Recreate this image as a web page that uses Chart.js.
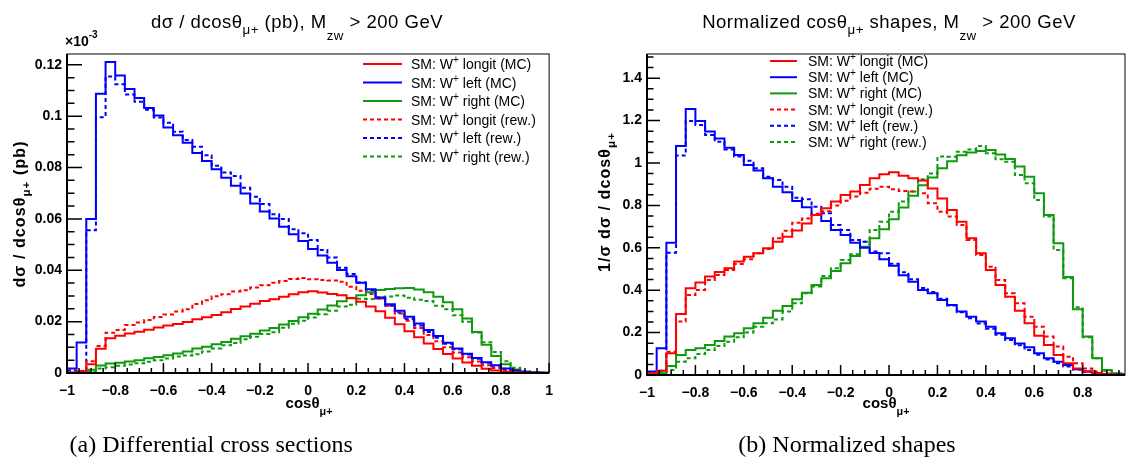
<!DOCTYPE html>
<html>
<head>
<meta charset="utf-8">
<script src="https://cdn.jsdelivr.net/npm/chart.js@4.4.1/dist/chart.umd.min.js"></script>
<style>
  body { margin: 0; background: #fff; width: 1126px; height: 459px; overflow: hidden; position: relative; }
  .panel { position: absolute; top: 0; width: 563px; height: 459px; }
</style>
</head>
<body>
<div class="panel" style="left:0"><canvas id="diff"></canvas></div>
<div class="panel" style="left:563px"><canvas id="norm"></canvas></div>
<script>
// bin edges of cos(theta), 50 bins from -1 to 1
const binEdges = Array.from({ length: 51 }, (_, i) => +(-1 + 0.04 * i).toFixed(2));

const seriesNames = ["longit (MC)", "left (MC)", "right (MC)", "longit (rew.)", "left (rew.)", "right (rew.)"];

const xTicksDiff = [-1, -0.8, -0.6, -0.4, -0.2, 0, 0.2, 0.4, 0.6, 0.8, 1];
const yTicksDiff = [0, 0.02, 0.04, 0.06, 0.08, 0.1, 0.12];
const yTicksNorm = [0, 0.2, 0.4, 0.6, 0.8, 1, 1.2, 1.4];

// (a) dsigma / dcos, in units of 1e-3 pb
const diffLongMC = [0.0002, 0.0006, 0.0034, 0.0094, 0.0135, 0.0145, 0.0154, 0.0161, 0.0168, 0.0177, 0.0185, 0.0191, 0.0199, 0.0209, 0.0217, 0.0226, 0.0237, 0.0249, 0.0259, 0.0270, 0.0280, 0.0287, 0.0297, 0.0307, 0.0314, 0.0318, 0.0313, 0.0308, 0.0303, 0.0292, 0.0277, 0.0259, 0.0240, 0.0215, 0.0190, 0.0163, 0.0139, 0.0115, 0.0093, 0.0074, 0.0056, 0.0041, 0.0028, 0.0017, 0.0010, 0.0005, 0.0003, 0.0001, 0.0001, 0.0000];
const diffLeftMC = [0.0018, 0.0119, 0.0600, 0.1087, 0.1211, 0.1158, 0.1106, 0.1071, 0.1032, 0.1003, 0.0956, 0.0926, 0.0896, 0.0857, 0.0825, 0.0793, 0.0760, 0.0729, 0.0699, 0.0660, 0.0629, 0.0602, 0.0569, 0.0540, 0.0514, 0.0483, 0.0457, 0.0429, 0.0401, 0.0377, 0.0351, 0.0326, 0.0294, 0.0268, 0.0242, 0.0219, 0.0193, 0.0167, 0.0144, 0.0118, 0.0095, 0.0075, 0.0058, 0.0042, 0.0030, 0.0018, 0.0010, 0.0005, 0.0002, 0.0001];
const diffRightMC = [0.0001, 0.0003, 0.0013, 0.0029, 0.0037, 0.0040, 0.0045, 0.0050, 0.0057, 0.0062, 0.0069, 0.0076, 0.0084, 0.0095, 0.0102, 0.0112, 0.0121, 0.0133, 0.0143, 0.0153, 0.0165, 0.0175, 0.0189, 0.0202, 0.0217, 0.0231, 0.0247, 0.0263, 0.0279, 0.0291, 0.0303, 0.0314, 0.0323, 0.0327, 0.0330, 0.0331, 0.0325, 0.0314, 0.0297, 0.0275, 0.0248, 0.0212, 0.0160, 0.0110, 0.0066, 0.0034, 0.0014, 0.0005, 0.0002, 0.0001];
const diffLongRw = [0.0002, 0.0006, 0.0046, 0.0105, 0.0157, 0.0167, 0.0187, 0.0197, 0.0206, 0.0218, 0.0228, 0.0239, 0.0248, 0.0269, 0.0283, 0.0299, 0.0307, 0.0317, 0.0322, 0.0333, 0.0342, 0.0351, 0.0358, 0.0366, 0.0370, 0.0365, 0.0362, 0.0360, 0.0355, 0.0336, 0.0320, 0.0308, 0.0290, 0.0262, 0.0232, 0.0203, 0.0175, 0.0148, 0.0124, 0.0100, 0.0080, 0.0061, 0.0045, 0.0030, 0.0019, 0.0010, 0.0005, 0.0002, 0.0001, 0.0000];
const diffLeftRw = [0.0010, 0.0008, 0.0556, 0.0996, 0.1154, 0.1124, 0.1084, 0.1056, 0.1025, 0.0995, 0.0974, 0.0939, 0.0907, 0.0881, 0.0848, 0.0807, 0.0781, 0.0767, 0.0721, 0.0686, 0.0658, 0.0618, 0.0600, 0.0560, 0.0544, 0.0518, 0.0479, 0.0450, 0.0410, 0.0385, 0.0352, 0.0322, 0.0290, 0.0262, 0.0236, 0.0210, 0.0185, 0.0160, 0.0137, 0.0114, 0.0092, 0.0072, 0.0055, 0.0040, 0.0028, 0.0017, 0.0009, 0.0004, 0.0002, 0.0001];
const diffRightRw = [0.0001, 0.0001, 0.0007, 0.0018, 0.0022, 0.0028, 0.0033, 0.0038, 0.0044, 0.0050, 0.0056, 0.0064, 0.0068, 0.0073, 0.0084, 0.0095, 0.0108, 0.0117, 0.0131, 0.0141, 0.0152, 0.0159, 0.0176, 0.0192, 0.0203, 0.0216, 0.0229, 0.0242, 0.0259, 0.0266, 0.0289, 0.0288, 0.0295, 0.0298, 0.0302, 0.0293, 0.0285, 0.0280, 0.0262, 0.0248, 0.0225, 0.0200, 0.0158, 0.0120, 0.0082, 0.0046, 0.0020, 0.0006, 0.0002, 0.0001];

// (b) normalized shapes
const normLongMC = [0.008, 0.020, 0.102, 0.288, 0.409, 0.436, 0.464, 0.486, 0.503, 0.535, 0.558, 0.574, 0.598, 0.629, 0.652, 0.681, 0.715, 0.755, 0.786, 0.818, 0.849, 0.865, 0.896, 0.928, 0.947, 0.956, 0.940, 0.928, 0.917, 0.880, 0.833, 0.778, 0.723, 0.645, 0.574, 0.495, 0.425, 0.369, 0.303, 0.244, 0.185, 0.142, 0.094, 0.055, 0.031, 0.016, 0.008, 0.004, 0.002, 0.001];
const normLeftMC = [0.016, 0.126, 0.624, 1.080, 1.255, 1.198, 1.149, 1.116, 1.072, 1.038, 0.990, 0.964, 0.928, 0.888, 0.862, 0.821, 0.791, 0.755, 0.726, 0.684, 0.660, 0.624, 0.600, 0.575, 0.546, 0.515, 0.470, 0.440, 0.401, 0.385, 0.354, 0.330, 0.299, 0.275, 0.252, 0.228, 0.197, 0.173, 0.149, 0.131, 0.102, 0.079, 0.063, 0.047, 0.027, 0.016, 0.008, 0.004, 0.002, 0.001];
const normRightMC = [0.004, 0.008, 0.042, 0.094, 0.118, 0.126, 0.142, 0.160, 0.181, 0.197, 0.220, 0.244, 0.270, 0.303, 0.325, 0.357, 0.388, 0.425, 0.456, 0.491, 0.527, 0.561, 0.605, 0.645, 0.687, 0.735, 0.790, 0.845, 0.895, 0.932, 0.975, 1.008, 1.036, 1.049, 1.057, 1.061, 1.040, 1.019, 0.983, 0.935, 0.857, 0.755, 0.621, 0.462, 0.310, 0.181, 0.079, 0.024, 0.008, 0.003];
const normLongRw = [0.004, 0.015, 0.110, 0.252, 0.377, 0.401, 0.448, 0.472, 0.495, 0.524, 0.546, 0.574, 0.594, 0.645, 0.680, 0.718, 0.738, 0.760, 0.772, 0.800, 0.822, 0.842, 0.860, 0.878, 0.888, 0.876, 0.868, 0.865, 0.857, 0.810, 0.770, 0.747, 0.708, 0.637, 0.566, 0.511, 0.448, 0.385, 0.338, 0.275, 0.228, 0.181, 0.134, 0.086, 0.055, 0.031, 0.016, 0.007, 0.003, 0.001];
const normLeftRw = [0.010, 0.020, 0.577, 1.035, 1.198, 1.179, 1.132, 1.100, 1.064, 1.030, 1.011, 0.975, 0.935, 0.920, 0.888, 0.836, 0.829, 0.794, 0.763, 0.708, 0.684, 0.637, 0.629, 0.582, 0.574, 0.525, 0.485, 0.452, 0.410, 0.392, 0.360, 0.328, 0.296, 0.268, 0.243, 0.218, 0.190, 0.165, 0.140, 0.118, 0.095, 0.073, 0.056, 0.040, 0.026, 0.015, 0.008, 0.004, 0.002, 0.001];
const normRightRw = [0.002, 0.004, 0.024, 0.063, 0.079, 0.099, 0.118, 0.137, 0.157, 0.178, 0.200, 0.228, 0.244, 0.262, 0.299, 0.338, 0.385, 0.417, 0.467, 0.503, 0.542, 0.569, 0.629, 0.684, 0.723, 0.770, 0.818, 0.865, 0.923, 0.950, 1.030, 1.029, 1.053, 1.064, 1.080, 1.046, 1.017, 1.006, 0.943, 0.904, 0.825, 0.747, 0.590, 0.456, 0.319, 0.178, 0.079, 0.020, 0.006, 0.002];

const COLORS = ["#ff0000", "#0000ff", "#0f990f"];
const SANS = '"Liberation Sans", Arial, sans-serif';
const SERIF = '"Liberation Serif", "Times New Roman", serif';

// text with sub/superscripts: parts = [[text], [text, dy], ...]
function rich(ctx, parts, x, y, o) {
    const weight = o.weight || "normal";
    const family = o.family || SANS;
    const spacing = o.spacing || 0;
    let w = 0;
    const items = parts.map((p) => {
        const s = p.length > 1 ? o.size * 0.72 : o.size;
        ctx.font = `${weight} ${s}px ${family}`;
        const it = { t: p[0], s, off: w, dy: p[1] || 0 };
        w += ctx.measureText(p[0]).width + spacing * p[0].length;
        return it;
    });
    const x0 = o.align === "center" ? -w / 2 : o.align === "right" ? -w : 0;
    ctx.save();
    ctx.translate(x, y);
    if (o.rotate) ctx.rotate(o.rotate);
    ctx.fillStyle = "#000";
    ctx.textAlign = "left";
    ctx.textBaseline = "alphabetic";
    items.forEach((it) => {
        ctx.font = `${weight} ${it.s}px ${family}`;
        // draw glyph by glyph so the spacing works everywhere
        let cx = x0 + it.off;
        for (const ch of it.t) {
            ctx.fillText(ch, cx, it.dy);
            cx += ctx.measureText(ch).width + spacing;
        }
    });
    ctx.restore();
}

const steps = (vals) => binEdges.map((x, i) => ({ x, y: vals[Math.min(i, vals.length - 1)] }));

const makeSets = (list) =>
    list.map((vals, i) => ({
        label: seriesNames[i],
        data: steps(vals),
        borderColor: COLORS[i % 3],
        borderDash: i < 3 ? [] : [4, 3],
        borderWidth: 2,
        stepped: true,
        pointRadius: 0,
        fill: false,
    }));

// ROOT style frame with inward ticks
const makeAxes = (cfg) => ({
    id: "rootAxes",
    afterDatasetsDraw(chart) {
        const { ctx, chartArea: a } = chart;
        const xs = chart.scales.x, ys = chart.scales.y;
        const marks = (scale, major, fn) => {
            const step = major / 4;
            const start = Math.ceil(scale.min / step - 1e-6);
            const end = Math.floor(scale.max / step + 1e-6);
            for (let i = start; i <= end; i++) fn(scale.getPixelForValue(i * step), i % 4 === 0);
        };
        ctx.save();
        ctx.strokeStyle = "#000";
        ctx.lineWidth = 1;
        ctx.strokeRect(a.left, a.top, a.right - a.left, a.bottom - a.top);
        ctx.lineWidth = 1.5;
        ctx.beginPath();
        marks(xs, cfg.xMajor, (p, m) => {
            ctx.moveTo(p, a.bottom);
            ctx.lineTo(p, a.bottom - (m ? cfg.xLen : cfg.xLen / 2));
        });
        marks(ys, cfg.yMajor, (p, m) => {
            ctx.moveTo(a.left, p);
            ctx.lineTo(a.left + (m ? cfg.yLen : cfg.yLen / 2), p);
        });
        ctx.stroke();
        ctx.lineWidth = 2;
        ctx.beginPath();
        ctx.moveTo(a.left, a.top);
        ctx.lineTo(a.left, a.bottom);
        ctx.lineTo(a.right, a.bottom);
        ctx.stroke();
        ctx.restore();
    },
});

// titles, axis titles, legend and caption
const makeText = (cfg) => ({
    id: "rootText",
    afterDraw(chart) {
        const ctx = chart.ctx;
        rich(ctx, cfg.title, cfg.titleX, 28, { size: 18.5, align: "center", spacing: 0.5 });
        rich(ctx, [["cosθ"], ["μ+", 7]], cfg.xTitleX, 408, { size: 15, weight: "bold", align: "center" });
        rich(ctx, cfg.yTitle, cfg.yTitleX, cfg.yTitleY, { size: 16, weight: "bold", align: "center", rotate: -Math.PI / 2, spacing: 1.1 });
        if (cfg.exponent) rich(ctx, [["×10"], ["-3", -8]], 65, 46, { size: 14, weight: "bold" });
        const L = cfg.legend;
        chart.data.datasets.forEach((ds, i) => {
            const y = L.y0 + L.dy * i;
            ctx.save();
            ctx.strokeStyle = ds.borderColor;
            ctx.lineWidth = 2;
            ctx.setLineDash(ds.borderDash);
            ctx.beginPath();
            ctx.moveTo(L.x1, y);
            ctx.lineTo(L.x2, y);
            ctx.stroke();
            ctx.restore();
            rich(ctx, [["SM: W"], ["+", -6], [" " + seriesNames[i]]], L.tx, y + 5, { size: 14 });
        });
        rich(ctx, [[cfg.caption]], cfg.captionX, 452, { size: 24, family: SERIF, align: "center" });
    },
});

const fmt = (v) => {
    const s = String(parseFloat(v.toFixed(3)));
    return s.replace("-", "\u2212");
};

function makeChart(id, sets, o) {
    const tickFont = { family: "Liberation Sans", size: 14, weight: "bold" };
    return new Chart(document.getElementById(id), {
        type: "line",
        data: { datasets: makeSets(sets) },
        options: {
            responsive: true,
            maintainAspectRatio: false,
            animation: false,
            layout: { padding: { top: 54, right: o.padRight, left: 0, bottom: 0 } },
            plugins: { legend: { display: false }, tooltip: { enabled: false } },
            scales: {
                x: {
                    type: "linear",
                    min: -1,
                    max: o.xMax,
                    afterFit: (s) => { s.height = o.xHeight; },
                    afterBuildTicks: (s) => { s.ticks = o.xTicks.filter((v) => v <= o.xMax).map((value) => ({ value })); },
                    grid: { display: false, drawTicks: false },
                    border: { display: false },
                    ticks: { padding: 10, font: tickFont, color: "#000", maxRotation: 0, autoSkip: false, callback: fmt },
                },
                y: {
                    type: "linear",
                    min: 0,
                    max: o.yMax,
                    afterFit: (s) => { s.width = o.yWidth; },
                    afterBuildTicks: (s) => { s.ticks = o.yTicks.map((value) => ({ value })); },
                    grid: { display: false, drawTicks: false },
                    border: { display: false },
                    ticks: { padding: 5, font: tickFont, color: "#000", autoSkip: false, callback: fmt },
                },
            },
        },
        plugins: [makeAxes(o.axes), makeText(o.text)],
    });
}

makeChart("diff", [diffLongMC, diffLeftMC, diffRightMC, diffLongRw, diffLeftRw, diffRightRw], {
    xMax: 1, yMax: 0.1242, padRight: 12, xHeight: 86, yWidth: 67,
    xTicks: xTicksDiff, yTicks: yTicksDiff,
    axes: { xMajor: 0.2, yMajor: 0.02, xLen: 10, yLen: 15 },
    text: {
        title: [["dσ / dcosθ"], ["μ+", 6], [" (pb), M"], ["zw", 12], [" > 200 GeV"]],
        titleX: 297,
        xTitleX: 309,
        yTitle: [["dσ / dcosθ"], ["μ+", 5], [" (pb)"]],
        yTitleX: 25, yTitleY: 214,
        exponent: true,
        legend: { x1: 363, x2: 402, tx: 411, y0: 64, dy: 18.5 },
        caption: "(a) Differential cross sections",
        captionX: 211,
    },
});

makeChart("norm", [normLongMC, normLeftMC, normRightMC, normLongRw, normLeftRw, normRightRw], {
    xMax: 0.975, yMax: 1.514, padRight: 1, xHeight: 84, yWidth: 84,
    xTicks: xTicksDiff, yTicks: yTicksNorm,
    axes: { xMajor: 0.2, yMajor: 0.2, xLen: 10, yLen: 13 },
    text: {
        title: [["Normalized cosθ"], ["μ+", 6], [" shapes, M"], ["zw", 12], [" > 200 GeV"]],
        titleX: 326,
        xTitleX: 323,
        yTitle: [["1/σ dσ / dcosθ"], ["μ+", 5]],
        yTitleX: 47, yTitleY: 202,
        exponent: false,
        legend: { x1: 207, x2: 234, tx: 245, y0: 61, dy: 16.2 },
        caption: "(b) Normalized shapes",
        captionX: 284,
    },
});
</script>
</body>
</html>
